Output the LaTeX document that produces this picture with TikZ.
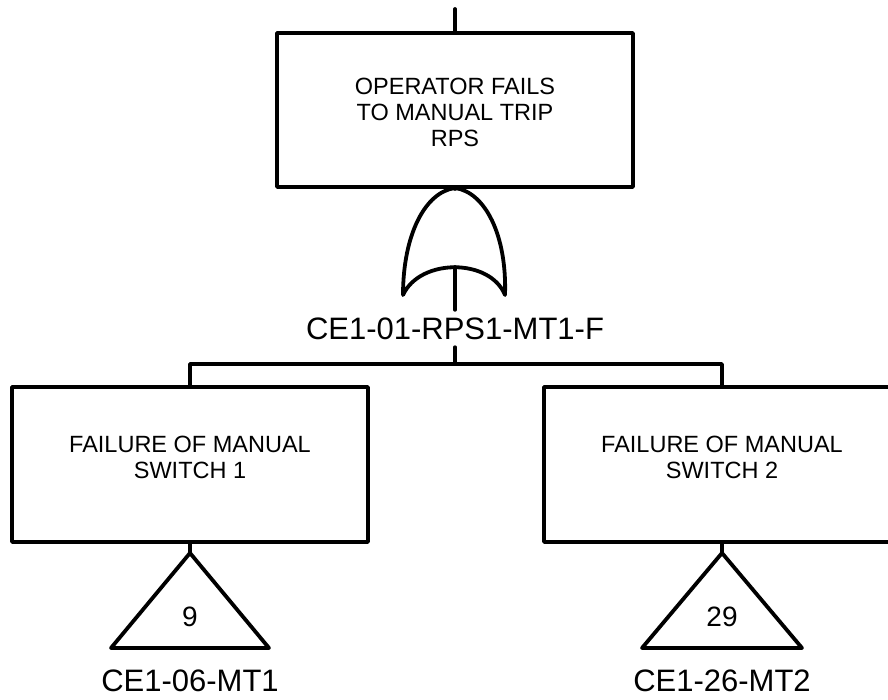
\documentclass[tikz,border=0pt]{standalone}
\usepackage{fontspec}
\setmainfont{Liberation Sans}
\begin{document}
\begin{tikzpicture}[x=1pt,y=-1pt,
  ln/.style={line width=3.8pt, line join=round, line cap=round},
  evbox/.style={draw, line width=3.8pt, line join=round, minimum width=356pt, inner sep=0pt},
  boxtext/.style={align=center, inner sep=0pt, font=\fontsize{23.5}{26}\selectfont},
  idtext/.style={inner sep=0pt, font=\fontsize{31}{34}\selectfont},
  numtext/.style={inner sep=0pt, font=\fontsize{28}{30}\selectfont}]
\useasboundingbox (0,0) rectangle (888,699);
\fill[white] (0,0) rectangle (888,699);
\clip (0,0) rectangle (888,699);

% top event
\coordinate (topin) at (455,9);
\node[evbox, minimum height=154pt] (top) at (455,110) {};
\node[boxtext] (toptext) at (455,112) {OPERATOR FAILS\\TO MANUAL TRIP\\RPS};
\draw[ln] (topin) -- (top.north);

% OR gate
\coordinate (gapex) at (455,188);
\coordinate (gl) at (403,295);
\coordinate (gr) at (505,295);
\coordinate (gin) at (455,267);
\draw[ln] (gapex) .. controls (425,192) and (403,235) .. (gl)
  .. controls (420,258) and (490,258) .. (gr)
  .. controls (507,235) and (485,192) .. (gapex);
\draw[ln] (top.south) -- (gapex);

% gate label
\node[idtext, minimum height=37pt] (glabel) at (455,328.5) {CE1-01-RPS1-MT1-F};
\draw[ln] (gin) -- (glabel.north);
\coordinate (bar) at (455,364);

% children
\node[evbox, minimum height=155pt] (b1) at (190,464.5) {};
\node[evbox, minimum height=155pt] (b2) at (722,464.5) {};
\node[boxtext] (t1) at (190,457) {FAILURE OF MANUAL\\SWITCH 1};
\node[boxtext] (t2) at (722,457) {FAILURE OF MANUAL\\SWITCH 2};
\draw[ln] (glabel.south) -- (bar);
\draw[ln] (b1.north) |- (bar) -| (b2.north);

% transfer triangles
\coordinate (a1) at (190,553);
\coordinate (l1) at (111,648);
\coordinate (r1) at (269,648);
\coordinate (a2) at (722,553);
\coordinate (l2) at (642,648);
\coordinate (r2) at (802,648);
\draw[ln] (a1) -- (l1) -- (r1) -- cycle;
\draw[ln] (a2) -- (l2) -- (r2) -- cycle;
\draw[ln] (b1.south) -- (a1);
\draw[ln] (b2.south) -- (a2);
\node[numtext] (n1) at (190,617) {9};
\node[numtext] (n2) at (722,617) {29};
\node[idtext] (id1) at (190,681) {CE1-06-MT1};
\node[idtext] (id2) at (722,681) {CE1-26-MT2};
\end{tikzpicture}
\end{document}
